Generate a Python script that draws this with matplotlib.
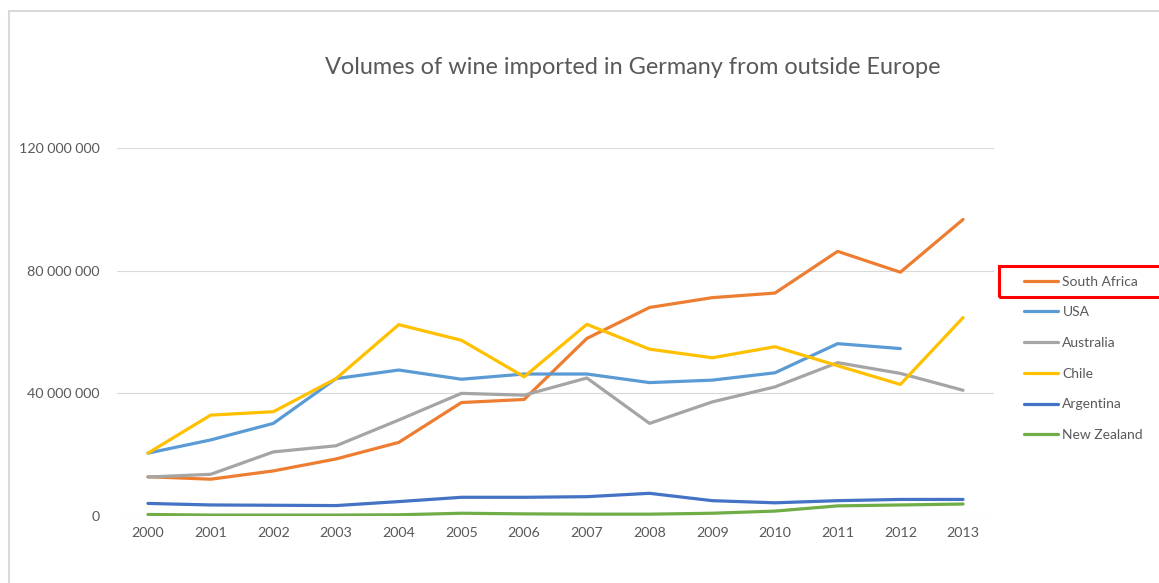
"""Volumes of wine imported in Germany from outside Europe (line chart)."""

import numpy as np
import matplotlib.pyplot as plt
from matplotlib.patches import Rectangle
from matplotlib.ticker import FuncFormatter

# Data

years = [str(y) for y in range(2000, 2014)]
south_africa = [12.8, 12.0, 14.7, 18.6, 24.0, 37.0, 38.0, 57.9, 68.0, 71.2,
                72.7, 86.3, 79.5, 96.7]
usa = [20.5, 24.8, 30.2, 44.8, 47.6, 44.6, 46.3, 46.3, 43.5, 44.3, 46.7,
       56.2, 54.6, np.nan]
australia = [12.7, 13.6, 20.9, 22.9, 31.3, 40.0, 39.4, 45.0, 30.2, 37.2,
             42.1, 50.0, 46.5, 41.0]
chile = [20.5, 32.9, 34.0, 44.8, 62.4, 57.3, 45.4, 62.5, 54.4, 51.6, 55.2,
         49.0, 42.9, 64.7]
argentina = [4.1, 3.6, 3.5, 3.4, 4.7, 6.1, 6.1, 6.3, 7.4, 5.0, 4.3, 5.0,
             5.4, 5.4]
new_zealand = [0.5, 0.3, 0.3, 0.3, 0.4, 0.9, 0.7, 0.6, 0.6, 0.9, 1.6, 3.3,
               3.6, 3.9]
series = [
    ("South Africa", south_africa, "#ED7D31"),
    ("USA", usa, "#5B9BD5"),
    ("Australia", australia, "#A5A5A5"),
    ("Chile", chile, "#FFC000"),
    ("Argentina", argentina, "#4472C4"),
    ("New Zealand", new_zealand, "#70AD47"),
]
yticks = [0, 40e6, 80e6, 120e6]

# Figure

plt.rcParams["font.family"] = ["Lato", "DejaVu Sans"]
W, H = 1159, 583
fig = plt.figure(figsize=(W / 100, H / 100), dpi=100)
ax = fig.add_axes([116.6 / W, (H - 516) / H, 877.8 / W, 368 / H])

x = np.arange(len(years))
for name, values, color in series:
    ax.plot(x, np.array(values) * 1e6, color=color, lw=2.3, label=name,
            solid_joinstyle="round", solid_capstyle="round")

ax.set_xlim(-0.5, len(years) - 0.5)
ax.set_ylim(0, 120e6)
ax.set_xticks(x, years)
ax.set_yticks(yticks)
ax.yaxis.set_major_formatter(
    FuncFormatter(lambda v, _: f"{int(v):,}".replace(",", " ")))
ax.tick_params(length=0, labelsize=10.3, labelcolor="#595959")
ax.tick_params(axis="y", pad=12)
ax.tick_params(axis="x", pad=8)
ax.grid(axis="y", color="#D9D9D9", lw=0.8)
ax.set_axisbelow(True)
for spine in ax.spines.values():
    spine.set_visible(False)

fig.text(632.5 / W, 1 - 67 / H,
         "Volumes of wine imported in Germany from outside Europe",
         ha="center", va="center", fontsize=16.9, color="#595959")

leg = fig.legend(loc="upper left", bbox_to_anchor=(1011 / W, 1 - 263 / H),
                 frameon=False, fontsize=10, labelspacing=1.35,
                 handlelength=2.5, handletextpad=0.3)
for text in leg.get_texts():
    text.set_color("#595959")

# Chart border and highlight box
fig.patches.append(Rectangle((9 / W, -0.01), 1.1, 1 - 11 / H + 0.01,
                             transform=fig.transFigure, fill=False,
                             ec="#D9D9D9", lw=1.5))
fig.patches.append(Rectangle((999 / W, 1 - 297 / H), 0.2, 31 / H,
                             transform=fig.transFigure, fill=False,
                             ec="#FF0000", lw=2.2))

fig.savefig("out.png", dpi=100)
